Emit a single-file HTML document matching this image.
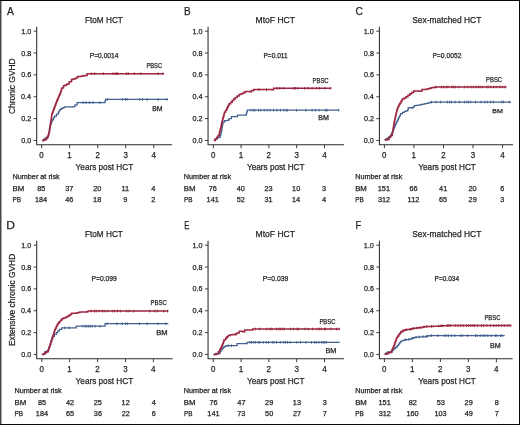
<!DOCTYPE html>
<html><head><meta charset="utf-8"><style>
html,body{margin:0;padding:0;background:#fff;}
body{width:520px;height:425px;overflow:hidden;position:relative;}
svg{position:absolute;left:0;top:0;will-change:transform;}
text{font-family:"Liberation Sans", sans-serif;stroke:#231f20;stroke-width:0.25px;}
</style></head><body>
<svg width="520" height="425" viewBox="0 0 520 425">
<rect x="0" y="0" width="520" height="425" fill="#fff"/>
<g transform="translate(0,0)">
<path d="M36.7,26.7 V144.8 H172.10" fill="none" stroke="#2b2a29" stroke-width="1.05"/>
<path d="M33.6,140.47H36.7M33.6,118.61H36.7M33.6,96.75H36.7M33.6,74.89H36.7M33.6,53.03H36.7M33.6,31.17H36.7M41.65,144.8V148.2M69.68,144.8V148.2M97.71,144.8V148.2M125.74,144.8V148.2M153.77,144.8V148.2" stroke="#2b2a29" stroke-width="0.9"/>
<text x="84.92" y="23.07" font-size="9.70" textLength="37.96" lengthAdjust="spacingAndGlyphs" fill="#231f20">FtoM HCT</text>
<text x="89.70" y="58.00" font-size="7.16" textLength="28.85" lengthAdjust="spacingAndGlyphs" fill="#231f20">P=0.0014</text>
<text x="21.15" y="143.02" font-size="7.59" textLength="10.03" lengthAdjust="spacingAndGlyphs" fill="#231f20">0.0</text>
<text x="21.23" y="121.16" font-size="7.59" textLength="10.03" lengthAdjust="spacingAndGlyphs" fill="#231f20">0.2</text>
<text x="21.08" y="99.30" font-size="7.59" textLength="10.03" lengthAdjust="spacingAndGlyphs" fill="#231f20">0.4</text>
<text x="21.19" y="77.44" font-size="7.59" textLength="10.03" lengthAdjust="spacingAndGlyphs" fill="#231f20">0.6</text>
<text x="21.18" y="55.58" font-size="7.59" textLength="10.03" lengthAdjust="spacingAndGlyphs" fill="#231f20">0.8</text>
<text x="21.15" y="33.72" font-size="7.59" textLength="10.03" lengthAdjust="spacingAndGlyphs" fill="#231f20">1.0</text>
<text x="39.35" y="158.00" font-size="8.17" textLength="4.41" lengthAdjust="spacingAndGlyphs" fill="#231f20">0</text>
<text x="67.24" y="158.00" font-size="8.28" textLength="4.47" lengthAdjust="spacingAndGlyphs" fill="#231f20">1</text>
<text x="95.41" y="158.00" font-size="8.17" textLength="4.41" lengthAdjust="spacingAndGlyphs" fill="#231f20">2</text>
<text x="123.46" y="158.00" font-size="8.17" textLength="4.41" lengthAdjust="spacingAndGlyphs" fill="#231f20">3</text>
<text x="151.46" y="158.00" font-size="8.28" textLength="4.47" lengthAdjust="spacingAndGlyphs" fill="#231f20">4</text>
<text x="75.62" y="170.30" font-size="9.60" textLength="57.56" lengthAdjust="spacingAndGlyphs" fill="#231f20">Years post HCT</text>
<text x="12.50" y="178.90" font-size="7.03" textLength="47.18" lengthAdjust="spacingAndGlyphs" fill="#231f20">Number at risk</text>
<text x="12.46" y="190.80" font-size="7.41" textLength="11.68" lengthAdjust="spacingAndGlyphs" fill="#231f20">BM</text>
<text x="12.57" y="202.20" font-size="7.41" textLength="8.57" lengthAdjust="spacingAndGlyphs" fill="#231f20">PB</text>
<text x="37.18" y="190.80" font-size="7.31" textLength="8.13" lengthAdjust="spacingAndGlyphs" fill="#231f20">85</text>
<text x="34.98" y="202.20" font-size="7.31" textLength="12.19" lengthAdjust="spacingAndGlyphs" fill="#231f20">184</text>
<text x="65.26" y="190.80" font-size="7.31" textLength="8.13" lengthAdjust="spacingAndGlyphs" fill="#231f20">37</text>
<text x="65.29" y="202.20" font-size="7.31" textLength="8.13" lengthAdjust="spacingAndGlyphs" fill="#231f20">46</text>
<text x="93.21" y="190.80" font-size="7.31" textLength="8.13" lengthAdjust="spacingAndGlyphs" fill="#231f20">20</text>
<text x="93.13" y="202.20" font-size="7.31" textLength="8.13" lengthAdjust="spacingAndGlyphs" fill="#231f20">18</text>
<text x="121.39" y="190.80" font-size="7.41" textLength="7.70" lengthAdjust="spacingAndGlyphs" fill="#231f20">11</text>
<text x="123.31" y="202.20" font-size="7.31" textLength="4.06" lengthAdjust="spacingAndGlyphs" fill="#231f20">9</text>
<text x="151.33" y="190.80" font-size="7.41" textLength="4.12" lengthAdjust="spacingAndGlyphs" fill="#231f20">4</text>
<text x="151.34" y="202.20" font-size="7.31" textLength="4.06" lengthAdjust="spacingAndGlyphs" fill="#231f20">2</text>
</g>
<text x="7.04" y="14.80" font-size="10.90" textLength="6.88" lengthAdjust="spacingAndGlyphs" fill="#231f20">A</text>
<text x="146.43" y="67.50" font-size="7.02" textLength="15.69" lengthAdjust="spacingAndGlyphs" fill="#231f20">PBSC</text>
<text x="152.24" y="110.75" font-size="6.76" textLength="10.33" lengthAdjust="spacingAndGlyphs" fill="#231f20">BM</text>
<path d="M41.90,140.50 L43.65,140.50 L43.65,139.15 L45.40,139.15 L45.40,137.80 L46.90,137.80 L46.90,136.80 L48.40,136.80 L48.40,135.80 L48.65,135.80 L48.65,134.15 L48.90,134.15 L48.90,132.50 L49.15,132.50 L49.15,130.85 L49.40,130.85 L49.40,129.20 L49.65,129.20 L49.65,127.55 L49.90,127.55 L49.90,125.90 L50.48,125.90 L50.48,124.38 L51.05,124.38 L51.05,122.85 L51.62,122.85 L51.62,121.33 L52.20,121.33 L52.20,119.80 L53.35,119.80 L53.35,117.90 L54.50,117.90 L54.50,116.00 L56.40,116.00 L56.40,114.05 L58.30,114.05 L58.30,112.10 L59.15,112.10 L59.15,110.75 L60.00,110.75 L60.00,109.40 L61.40,109.40 L61.40,108.30 L63.00,108.30 L63.00,107.55 L64.60,107.55 L64.60,106.80 L72.70,106.80 L72.70,106.50 L75.00,106.50 L75.00,104.80 L77.10,104.80 L77.10,102.50 L104.40,102.50 L104.40,102.50 L105.00,102.50 L105.00,100.95 L105.60,100.95 L105.60,99.40 L168.00,99.40 L168.00,99.40" fill="none" stroke="#41608e" stroke-width="1.25" stroke-linejoin="miter"/>
<path d="M83.10,101.20V103.80M86.00,101.20V103.80M89.40,101.20V103.80M92.90,101.20V103.80M99.80,101.20V103.80M107.30,98.10V100.70M122.40,98.10V100.70M125.30,98.10V100.70M127.00,98.10V100.70M139.70,98.10V100.70M142.60,98.10V100.70M147.20,98.10V100.70M158.20,98.10V100.70M166.80,98.10V100.70" stroke="#41608e" stroke-width="1.0"/>
<path d="M41.90,140.50 L43.65,140.50 L43.65,140.05 L45.40,140.05 L45.40,139.60 L46.50,139.60 L46.50,138.10 L47.60,138.10 L47.60,136.60 L48.13,136.60 L48.13,135.07 L48.67,135.07 L48.67,133.53 L49.20,133.53 L49.20,132.00 L49.44,132.00 L49.44,130.46 L49.68,130.46 L49.68,128.92 L49.92,128.92 L49.92,127.38 L50.16,127.38 L50.16,125.84 L50.40,125.84 L50.40,124.30 L50.61,124.30 L50.61,122.77 L50.83,122.77 L50.83,121.24 L51.04,121.24 L51.04,119.71 L51.26,119.71 L51.26,118.19 L51.47,118.19 L51.47,116.66 L51.69,116.66 L51.69,115.13 L51.90,115.13 L51.90,113.60 L52.55,113.60 L52.55,111.90 L53.20,111.90 L53.20,110.20 L53.85,110.20 L53.85,108.50 L54.50,108.50 L54.50,106.80 L55.08,106.80 L55.08,105.25 L55.65,105.25 L55.65,103.70 L56.22,103.70 L56.22,102.15 L56.80,102.15 L56.80,100.60 L57.57,100.60 L57.57,98.83 L58.33,98.83 L58.33,97.07 L59.10,97.07 L59.10,95.30 L59.80,95.30 L59.80,93.65 L60.50,93.65 L60.50,92.00 L61.10,92.00 L61.10,90.05 L61.70,90.05 L61.70,88.10 L63.50,88.10 L63.50,85.80 L65.20,85.80 L65.20,84.90 L66.90,84.90 L66.90,84.00 L69.20,84.00 L69.20,81.70 L71.50,81.70 L71.50,79.40 L73.25,79.40 L73.25,79.00 L75.00,79.00 L75.00,78.60 L76.45,78.60 L76.45,77.55 L77.90,77.55 L77.90,76.50 L80.80,76.50 L80.80,76.20 L82.80,76.20 L82.80,75.80 L84.80,75.80 L84.80,75.40 L87.10,75.40 L87.10,73.70 L163.90,73.70 L163.90,73.70" fill="none" stroke="#9c2541" stroke-width="1.5" stroke-linejoin="miter"/>
<path d="M91.20,72.40V75.00M94.60,72.40V75.00M103.30,72.40V75.00M113.00,72.40V75.00M114.90,72.40V75.00M116.50,72.40V75.00M117.80,72.40V75.00M126.40,72.40V75.00M128.20,72.40V75.00M134.50,72.40V75.00M140.80,72.40V75.00M158.20,72.40V75.00M162.80,72.40V75.00" stroke="#9c2541" stroke-width="1.0"/>
<g transform="translate(171.35,0)">
<path d="M36.7,26.7 V144.8 H172.55" fill="none" stroke="#2b2a29" stroke-width="1.05"/>
<path d="M33.6,140.47H36.7M33.6,118.61H36.7M33.6,96.75H36.7M33.6,74.89H36.7M33.6,53.03H36.7M33.6,31.17H36.7M41.95,144.8V148.2M69.75,144.8V148.2M97.55,144.8V148.2M125.35,144.8V148.2M153.15,144.8V148.2" stroke="#2b2a29" stroke-width="0.9"/>
<text x="84.20" y="23.07" font-size="9.70" textLength="39.40" lengthAdjust="spacingAndGlyphs" fill="#231f20">MtoF HCT</text>
<text x="92.06" y="58.00" font-size="7.16" textLength="24.27" lengthAdjust="spacingAndGlyphs" fill="#231f20">P=0.011</text>
<text x="21.15" y="143.02" font-size="7.59" textLength="10.03" lengthAdjust="spacingAndGlyphs" fill="#231f20">0.0</text>
<text x="21.23" y="121.16" font-size="7.59" textLength="10.03" lengthAdjust="spacingAndGlyphs" fill="#231f20">0.2</text>
<text x="21.08" y="99.30" font-size="7.59" textLength="10.03" lengthAdjust="spacingAndGlyphs" fill="#231f20">0.4</text>
<text x="21.19" y="77.44" font-size="7.59" textLength="10.03" lengthAdjust="spacingAndGlyphs" fill="#231f20">0.6</text>
<text x="21.18" y="55.58" font-size="7.59" textLength="10.03" lengthAdjust="spacingAndGlyphs" fill="#231f20">0.8</text>
<text x="21.15" y="33.72" font-size="7.59" textLength="10.03" lengthAdjust="spacingAndGlyphs" fill="#231f20">1.0</text>
<text x="39.65" y="158.00" font-size="8.17" textLength="4.41" lengthAdjust="spacingAndGlyphs" fill="#231f20">0</text>
<text x="67.31" y="158.00" font-size="8.28" textLength="4.47" lengthAdjust="spacingAndGlyphs" fill="#231f20">1</text>
<text x="95.25" y="158.00" font-size="8.17" textLength="4.41" lengthAdjust="spacingAndGlyphs" fill="#231f20">2</text>
<text x="123.07" y="158.00" font-size="8.17" textLength="4.41" lengthAdjust="spacingAndGlyphs" fill="#231f20">3</text>
<text x="150.84" y="158.00" font-size="8.28" textLength="4.47" lengthAdjust="spacingAndGlyphs" fill="#231f20">4</text>
<text x="75.62" y="170.30" font-size="9.60" textLength="57.56" lengthAdjust="spacingAndGlyphs" fill="#231f20">Years post HCT</text>
<text x="12.50" y="178.90" font-size="7.03" textLength="47.18" lengthAdjust="spacingAndGlyphs" fill="#231f20">Number at risk</text>
<text x="12.46" y="190.80" font-size="7.41" textLength="11.68" lengthAdjust="spacingAndGlyphs" fill="#231f20">BM</text>
<text x="12.57" y="202.20" font-size="7.41" textLength="8.57" lengthAdjust="spacingAndGlyphs" fill="#231f20">PB</text>
<text x="37.46" y="190.80" font-size="7.31" textLength="8.13" lengthAdjust="spacingAndGlyphs" fill="#231f20">76</text>
<text x="35.27" y="202.20" font-size="7.41" textLength="12.37" lengthAdjust="spacingAndGlyphs" fill="#231f20">141</text>
<text x="65.35" y="190.80" font-size="7.31" textLength="8.13" lengthAdjust="spacingAndGlyphs" fill="#231f20">40</text>
<text x="65.32" y="202.20" font-size="7.31" textLength="8.13" lengthAdjust="spacingAndGlyphs" fill="#231f20">52</text>
<text x="93.07" y="190.80" font-size="7.31" textLength="8.13" lengthAdjust="spacingAndGlyphs" fill="#231f20">23</text>
<text x="93.13" y="202.20" font-size="7.31" textLength="8.13" lengthAdjust="spacingAndGlyphs" fill="#231f20">31</text>
<text x="120.75" y="190.80" font-size="7.31" textLength="8.13" lengthAdjust="spacingAndGlyphs" fill="#231f20">10</text>
<text x="120.65" y="202.20" font-size="7.41" textLength="8.25" lengthAdjust="spacingAndGlyphs" fill="#231f20">14</text>
<text x="150.74" y="190.80" font-size="7.31" textLength="4.06" lengthAdjust="spacingAndGlyphs" fill="#231f20">3</text>
<text x="150.71" y="202.20" font-size="7.41" textLength="4.12" lengthAdjust="spacingAndGlyphs" fill="#231f20">4</text>
</g>
<text x="184.08" y="14.70" font-size="10.90" textLength="6.64" lengthAdjust="spacingAndGlyphs" fill="#231f20">B</text>
<text x="312.47" y="83.25" font-size="7.44" textLength="16.15" lengthAdjust="spacingAndGlyphs" fill="#231f20">PBSC</text>
<text x="318.26" y="119.90" font-size="6.76" textLength="10.72" lengthAdjust="spacingAndGlyphs" fill="#231f20">BM</text>
<path d="M213.80,140.40 L215.35,140.40 L215.35,139.10 L216.90,139.10 L216.90,137.80 L218.40,137.80 L218.40,137.35 L219.90,137.35 L219.90,136.90 L220.30,136.90 L220.30,135.30 L220.70,135.30 L220.70,133.70 L221.10,133.70 L221.10,132.10 L221.50,132.10 L221.50,130.50 L221.80,130.50 L221.80,128.80 L222.10,128.80 L222.10,127.10 L222.40,127.10 L222.40,125.40 L222.70,125.40 L222.70,123.70 L223.00,123.70 L223.00,122.00 L224.50,122.00 L224.50,120.50 L227.60,120.50 L227.60,120.10 L229.10,120.10 L229.10,118.50 L231.40,118.50 L231.40,116.70 L236.00,116.70 L236.00,116.70 L237.50,116.70 L237.50,115.20 L245.80,115.20 L245.80,115.20 L246.27,115.20 L246.27,113.53 L246.73,113.53 L246.73,111.87 L247.20,111.87 L247.20,110.20 L339.20,110.20 L339.20,110.20" fill="none" stroke="#41608e" stroke-width="1.25" stroke-linejoin="miter"/>
<path d="M251.00,108.90V111.50M253.30,108.90V111.50M255.00,108.90V111.50M258.50,108.90V111.50M260.80,108.90V111.50M264.20,108.90V111.50M267.10,108.90V111.50M270.00,108.90V111.50M273.50,108.90V111.50M276.90,108.90V111.50M280.40,108.90V111.50M283.80,108.90V111.50M286.20,108.90V111.50M287.30,108.90V111.50M296.50,108.90V111.50M305.80,108.90V111.50M312.10,108.90V111.50M315.60,108.90V111.50M319.00,108.90V111.50M325.40,108.90V111.50M327.10,108.90V111.50M338.70,108.90V111.50" stroke="#41608e" stroke-width="1.0"/>
<path d="M213.80,140.40 L215.35,140.40 L215.35,138.85 L216.90,138.85 L216.90,137.30 L218.05,137.30 L218.05,135.40 L219.20,135.40 L219.20,133.50 L219.57,133.50 L219.57,131.97 L219.95,131.97 L219.95,130.45 L220.32,130.45 L220.32,128.93 L220.70,128.93 L220.70,127.40 L221.07,127.40 L221.07,125.68 L221.45,125.68 L221.45,123.95 L221.82,123.95 L221.82,122.22 L222.20,122.22 L222.20,120.50 L222.66,120.50 L222.66,118.82 L223.12,118.82 L223.12,117.14 L223.58,117.14 L223.58,115.46 L224.04,115.46 L224.04,113.78 L224.50,113.78 L224.50,112.10 L225.65,112.10 L225.65,110.20 L226.80,110.20 L226.80,108.30 L227.57,108.30 L227.57,106.77 L228.33,106.77 L228.33,105.23 L229.10,105.23 L229.10,103.70 L230.65,103.70 L230.65,102.15 L232.20,102.15 L232.20,100.60 L233.70,100.60 L233.70,99.10 L235.20,99.10 L235.20,97.60 L237.15,97.60 L237.15,96.05 L239.10,96.05 L239.10,94.50 L240.70,94.50 L240.70,93.90 L242.30,93.90 L242.30,93.30 L243.75,93.30 L243.75,92.40 L245.20,92.40 L245.20,91.50 L249.80,91.50 L249.80,91.80 L251.50,91.80 L251.50,90.60 L253.80,90.60 L253.80,89.60 L271.20,89.60 L271.20,89.80 L273.50,89.80 L273.50,88.30 L331.20,88.30 L331.20,88.30" fill="none" stroke="#9c2541" stroke-width="1.5" stroke-linejoin="miter"/>
<path d="M259.00,88.36V90.96M266.50,88.45V91.05M276.90,87.00V89.60M279.80,87.00V89.60M283.30,87.00V89.60M293.70,87.00V89.60M295.40,87.00V89.60M297.70,87.00V89.60M304.60,87.00V89.60M308.10,87.00V89.60M312.10,87.00V89.60M316.70,87.00V89.60M319.60,87.00V89.60M324.80,87.00V89.60M330.60,87.00V89.60" stroke="#9c2541" stroke-width="1.0"/>
<g transform="translate(342.7,0)">
<path d="M36.7,26.7 V144.8 H170.30" fill="none" stroke="#2b2a29" stroke-width="1.05"/>
<path d="M33.6,140.47H36.7M33.6,118.61H36.7M33.6,96.75H36.7M33.6,74.89H36.7M33.6,53.03H36.7M33.6,31.17H36.7M41.70,144.8V148.2M71.25,144.8V148.2M100.80,144.8V148.2M130.35,144.8V148.2M159.90,144.8V148.2" stroke="#2b2a29" stroke-width="0.9"/>
<text x="69.51" y="23.07" font-size="9.34" textLength="69.08" lengthAdjust="spacingAndGlyphs" fill="#231f20">Sex-matched HCT</text>
<text x="89.70" y="58.00" font-size="7.16" textLength="28.99" lengthAdjust="spacingAndGlyphs" fill="#231f20">P=0.0052</text>
<text x="21.15" y="143.02" font-size="7.59" textLength="10.03" lengthAdjust="spacingAndGlyphs" fill="#231f20">0.0</text>
<text x="21.23" y="121.16" font-size="7.59" textLength="10.03" lengthAdjust="spacingAndGlyphs" fill="#231f20">0.2</text>
<text x="21.08" y="99.30" font-size="7.59" textLength="10.03" lengthAdjust="spacingAndGlyphs" fill="#231f20">0.4</text>
<text x="21.19" y="77.44" font-size="7.59" textLength="10.03" lengthAdjust="spacingAndGlyphs" fill="#231f20">0.6</text>
<text x="21.18" y="55.58" font-size="7.59" textLength="10.03" lengthAdjust="spacingAndGlyphs" fill="#231f20">0.8</text>
<text x="21.15" y="33.72" font-size="7.59" textLength="10.03" lengthAdjust="spacingAndGlyphs" fill="#231f20">1.0</text>
<text x="39.40" y="158.00" font-size="8.17" textLength="4.41" lengthAdjust="spacingAndGlyphs" fill="#231f20">0</text>
<text x="68.81" y="158.00" font-size="8.28" textLength="4.47" lengthAdjust="spacingAndGlyphs" fill="#231f20">1</text>
<text x="98.50" y="158.00" font-size="8.17" textLength="4.41" lengthAdjust="spacingAndGlyphs" fill="#231f20">2</text>
<text x="128.07" y="158.00" font-size="8.17" textLength="4.41" lengthAdjust="spacingAndGlyphs" fill="#231f20">3</text>
<text x="157.59" y="158.00" font-size="8.28" textLength="4.47" lengthAdjust="spacingAndGlyphs" fill="#231f20">4</text>
<text x="75.62" y="170.30" font-size="9.60" textLength="57.56" lengthAdjust="spacingAndGlyphs" fill="#231f20">Years post HCT</text>
<text x="12.50" y="178.90" font-size="7.03" textLength="47.18" lengthAdjust="spacingAndGlyphs" fill="#231f20">Number at risk</text>
<text x="12.46" y="190.80" font-size="7.41" textLength="11.68" lengthAdjust="spacingAndGlyphs" fill="#231f20">BM</text>
<text x="12.57" y="202.20" font-size="7.41" textLength="8.57" lengthAdjust="spacingAndGlyphs" fill="#231f20">PB</text>
<text x="35.02" y="190.80" font-size="7.41" textLength="12.37" lengthAdjust="spacingAndGlyphs" fill="#231f20">151</text>
<text x="35.25" y="202.20" font-size="7.31" textLength="12.19" lengthAdjust="spacingAndGlyphs" fill="#231f20">312</text>
<text x="66.76" y="190.80" font-size="7.31" textLength="8.13" lengthAdjust="spacingAndGlyphs" fill="#231f20">66</text>
<text x="64.93" y="202.20" font-size="7.31" textLength="11.65" lengthAdjust="spacingAndGlyphs" fill="#231f20">112</text>
<text x="96.37" y="190.80" font-size="7.41" textLength="8.25" lengthAdjust="spacingAndGlyphs" fill="#231f20">41</text>
<text x="96.30" y="202.20" font-size="7.31" textLength="8.13" lengthAdjust="spacingAndGlyphs" fill="#231f20">65</text>
<text x="125.85" y="190.80" font-size="7.31" textLength="8.13" lengthAdjust="spacingAndGlyphs" fill="#231f20">20</text>
<text x="125.88" y="202.20" font-size="7.31" textLength="8.13" lengthAdjust="spacingAndGlyphs" fill="#231f20">29</text>
<text x="157.44" y="190.80" font-size="7.31" textLength="4.06" lengthAdjust="spacingAndGlyphs" fill="#231f20">6</text>
<text x="157.49" y="202.20" font-size="7.31" textLength="4.06" lengthAdjust="spacingAndGlyphs" fill="#231f20">3</text>
</g>
<text x="355.38" y="15.00" font-size="11.03" textLength="7.42" lengthAdjust="spacingAndGlyphs" fill="#231f20">C</text>
<text x="486.12" y="81.80" font-size="7.02" textLength="16.01" lengthAdjust="spacingAndGlyphs" fill="#231f20">PBSC</text>
<text x="492.22" y="112.60" font-size="6.25" textLength="10.55" lengthAdjust="spacingAndGlyphs" fill="#231f20">BM</text>
<path d="M384.60,139.60 L386.10,139.60 L386.10,138.70 L387.60,138.70 L387.60,137.80 L389.15,137.80 L389.15,136.40 L390.70,136.40 L390.70,135.00 L391.47,135.00 L391.47,133.50 L392.23,133.50 L392.23,132.00 L393.00,132.00 L393.00,130.50 L393.57,130.50 L393.57,128.95 L394.15,128.95 L394.15,127.40 L394.73,127.40 L394.73,125.85 L395.30,125.85 L395.30,124.30 L396.07,124.30 L396.07,122.80 L396.83,122.80 L396.83,121.30 L397.60,121.30 L397.60,119.80 L398.35,119.80 L398.35,118.25 L399.10,118.25 L399.10,116.70 L399.85,116.70 L399.85,115.15 L400.60,115.15 L400.60,113.60 L402.55,113.60 L402.55,112.45 L404.50,112.45 L404.50,111.30 L406.00,111.30 L406.00,110.95 L407.50,110.95 L407.50,110.60 L407.90,110.60 L407.90,109.15 L408.30,109.15 L408.30,107.70 L411.30,107.70 L411.30,108.00 L412.85,108.00 L412.85,106.85 L414.40,106.85 L414.40,105.70 L416.20,105.70 L416.20,105.40 L418.00,105.40 L418.00,105.10 L419.80,105.10 L419.80,104.80 L421.48,104.80 L421.48,104.42 L423.15,104.42 L423.15,104.05 L424.82,104.05 L424.82,103.67 L426.50,103.67 L426.50,103.30 L428.23,103.30 L428.23,102.87 L429.97,102.87 L429.97,102.43 L431.70,102.43 L431.70,102.00 L511.00,102.00 L511.00,102.00" fill="none" stroke="#41608e" stroke-width="1.25" stroke-linejoin="miter"/>
<path d="M431.40,100.78V103.38M436.00,100.70V103.30M440.70,100.70V103.30M447.50,100.70V103.30M449.60,100.70V103.30M451.30,100.70V103.30M455.10,100.70V103.30M459.30,100.70V103.30M464.40,100.70V103.30M466.90,100.70V103.30M468.60,100.70V103.30M470.70,100.70V103.30M475.50,100.70V103.30M481.00,100.70V103.30M484.80,100.70V103.30M487.30,100.70V103.30M490.30,100.70V103.30M493.30,100.70V103.30M501.70,100.70V103.30M503.40,100.70V103.30M509.30,100.70V103.30" stroke="#41608e" stroke-width="1.0"/>
<path d="M384.60,140.10 L386.90,140.10 L386.90,139.60 L389.20,139.60 L389.20,137.30 L390.70,137.30 L390.70,135.40 L392.20,135.40 L392.20,133.50 L392.47,133.50 L392.47,131.97 L392.74,131.97 L392.74,130.44 L393.01,130.44 L393.01,128.91 L393.29,128.91 L393.29,127.39 L393.56,127.39 L393.56,125.86 L393.83,125.86 L393.83,124.33 L394.10,124.33 L394.10,122.80 L394.43,122.80 L394.43,121.15 L394.77,121.15 L394.77,119.50 L395.10,119.50 L395.10,117.85 L395.43,117.85 L395.43,116.20 L395.77,116.20 L395.77,114.55 L396.10,114.55 L396.10,112.90 L396.60,112.90 L396.60,111.10 L397.10,111.10 L397.10,109.30 L397.60,109.30 L397.60,107.50 L398.37,107.50 L398.37,105.97 L399.13,105.97 L399.13,104.43 L399.90,104.43 L399.90,102.90 L401.05,102.90 L401.05,101.00 L402.20,101.00 L402.20,99.10 L404.10,99.10 L404.10,97.95 L406.00,97.95 L406.00,96.80 L407.90,96.80 L407.90,95.30 L409.80,95.30 L409.80,93.80 L411.70,93.80 L411.70,92.40 L413.60,92.40 L413.60,91.00 L419.60,91.00 L419.60,91.20 L421.90,91.20 L421.90,89.40 L426.50,89.40 L426.50,89.10 L428.07,89.10 L428.07,88.63 L429.63,88.63 L429.63,88.17 L431.20,88.17 L431.20,87.70 L432.73,87.70 L432.73,87.50 L434.27,87.50 L434.27,87.30 L435.80,87.30 L435.80,87.10 L445.00,87.10 L445.00,87.10 L447.30,87.10 L447.30,87.00 L506.50,87.00 L506.50,87.00" fill="none" stroke="#9c2541" stroke-width="1.5" stroke-linejoin="miter"/>
<path d="M435.60,85.83V88.43M441.50,85.80V88.40M443.70,85.80V88.40M446.20,85.75V88.35M447.90,85.70V88.30M451.70,85.70V88.30M453.40,85.70V88.30M455.10,85.70V88.30M458.90,85.70V88.30M464.40,85.70V88.30M467.80,85.70V88.30M471.10,85.70V88.30M473.40,85.70V88.30M476.30,85.70V88.30M478.50,85.70V88.30M480.20,85.70V88.30M482.70,85.70V88.30M486.90,85.70V88.30M488.20,85.70V88.30M490.70,85.70V88.30M493.70,85.70V88.30M496.20,85.70V88.30M499.60,85.70V88.30M502.10,85.70V88.30M505.10,85.70V88.30" stroke="#9c2541" stroke-width="1.0"/>
<g transform="translate(0,214)">
<path d="M36.7,26.7 V144.8 H172.60" fill="none" stroke="#2b2a29" stroke-width="1.05"/>
<path d="M33.6,140.47H36.7M33.6,118.61H36.7M33.6,96.75H36.7M33.6,74.89H36.7M33.6,53.03H36.7M33.6,31.17H36.7M41.80,144.8V148.2M69.70,144.8V148.2M97.60,144.8V148.2M125.50,144.8V148.2M153.40,144.8V148.2" stroke="#2b2a29" stroke-width="0.9"/>
<text x="84.92" y="23.07" font-size="9.70" textLength="37.96" lengthAdjust="spacingAndGlyphs" fill="#231f20">FtoM HCT</text>
<text x="91.55" y="66.60" font-size="6.73" textLength="25.27" lengthAdjust="spacingAndGlyphs" fill="#231f20">P=0.099</text>
<text x="21.15" y="143.02" font-size="7.59" textLength="10.03" lengthAdjust="spacingAndGlyphs" fill="#231f20">0.0</text>
<text x="21.23" y="121.16" font-size="7.59" textLength="10.03" lengthAdjust="spacingAndGlyphs" fill="#231f20">0.2</text>
<text x="21.08" y="99.30" font-size="7.59" textLength="10.03" lengthAdjust="spacingAndGlyphs" fill="#231f20">0.4</text>
<text x="21.19" y="77.44" font-size="7.59" textLength="10.03" lengthAdjust="spacingAndGlyphs" fill="#231f20">0.6</text>
<text x="21.18" y="55.58" font-size="7.59" textLength="10.03" lengthAdjust="spacingAndGlyphs" fill="#231f20">0.8</text>
<text x="21.15" y="33.72" font-size="7.59" textLength="10.03" lengthAdjust="spacingAndGlyphs" fill="#231f20">1.0</text>
<text x="39.50" y="158.00" font-size="8.17" textLength="4.41" lengthAdjust="spacingAndGlyphs" fill="#231f20">0</text>
<text x="67.26" y="158.00" font-size="8.28" textLength="4.47" lengthAdjust="spacingAndGlyphs" fill="#231f20">1</text>
<text x="95.30" y="158.00" font-size="8.17" textLength="4.41" lengthAdjust="spacingAndGlyphs" fill="#231f20">2</text>
<text x="123.22" y="158.00" font-size="8.17" textLength="4.41" lengthAdjust="spacingAndGlyphs" fill="#231f20">3</text>
<text x="151.09" y="158.00" font-size="8.28" textLength="4.47" lengthAdjust="spacingAndGlyphs" fill="#231f20">4</text>
<text x="75.62" y="170.30" font-size="9.60" textLength="57.56" lengthAdjust="spacingAndGlyphs" fill="#231f20">Years post HCT</text>
<text x="14.50" y="178.90" font-size="7.03" textLength="47.18" lengthAdjust="spacingAndGlyphs" fill="#231f20">Number at risk</text>
<text x="14.46" y="190.80" font-size="7.41" textLength="11.68" lengthAdjust="spacingAndGlyphs" fill="#231f20">BM</text>
<text x="14.57" y="202.20" font-size="7.41" textLength="8.57" lengthAdjust="spacingAndGlyphs" fill="#231f20">PB</text>
<text x="38.03" y="190.80" font-size="7.31" textLength="8.13" lengthAdjust="spacingAndGlyphs" fill="#231f20">85</text>
<text x="35.83" y="202.20" font-size="7.31" textLength="12.19" lengthAdjust="spacingAndGlyphs" fill="#231f20">184</text>
<text x="66.04" y="190.80" font-size="7.31" textLength="8.13" lengthAdjust="spacingAndGlyphs" fill="#231f20">42</text>
<text x="65.90" y="202.20" font-size="7.31" textLength="8.13" lengthAdjust="spacingAndGlyphs" fill="#231f20">65</text>
<text x="93.81" y="190.80" font-size="7.31" textLength="8.13" lengthAdjust="spacingAndGlyphs" fill="#231f20">25</text>
<text x="93.86" y="202.20" font-size="7.31" textLength="8.13" lengthAdjust="spacingAndGlyphs" fill="#231f20">36</text>
<text x="121.64" y="190.80" font-size="7.31" textLength="8.13" lengthAdjust="spacingAndGlyphs" fill="#231f20">12</text>
<text x="121.74" y="202.20" font-size="7.31" textLength="8.13" lengthAdjust="spacingAndGlyphs" fill="#231f20">22</text>
<text x="151.66" y="190.80" font-size="7.41" textLength="4.12" lengthAdjust="spacingAndGlyphs" fill="#231f20">4</text>
<text x="151.64" y="202.20" font-size="7.31" textLength="4.06" lengthAdjust="spacingAndGlyphs" fill="#231f20">6</text>
</g>
<text x="6.32" y="228.80" font-size="10.90" textLength="8.66" lengthAdjust="spacingAndGlyphs" fill="#231f20">D</text>
<text x="150.57" y="305.10" font-size="7.16" textLength="16.15" lengthAdjust="spacingAndGlyphs" fill="#231f20">PBSC</text>
<text x="156.18" y="335.00" font-size="6.69" textLength="11.34" lengthAdjust="spacingAndGlyphs" fill="#231f20">BM</text>
<path d="M43.40,353.90 L44.90,353.90 L44.90,351.60 L46.40,351.60 L46.40,351.00 L47.90,351.00 L47.90,350.40 L48.48,350.40 L48.48,348.77 L49.05,348.77 L49.05,347.15 L49.62,347.15 L49.62,345.52 L50.20,345.52 L50.20,343.90 L50.66,343.90 L50.66,342.38 L51.12,342.38 L51.12,340.86 L51.58,340.86 L51.58,339.34 L52.04,339.34 L52.04,337.82 L52.50,337.82 L52.50,336.30 L54.40,336.30 L54.40,334.40 L56.30,334.40 L56.30,332.50 L57.85,332.50 L57.85,330.95 L59.40,330.95 L59.40,329.40 L61.70,329.40 L61.70,327.90 L75.50,327.90 L75.50,327.90 L76.20,327.90 L76.20,326.20 L104.90,326.20 L104.90,326.20 L105.10,326.20 L105.10,323.70 L168.30,323.70 L168.30,323.70" fill="none" stroke="#41608e" stroke-width="1.25" stroke-linejoin="miter"/>
<path d="M64.80,326.60V329.20M69.30,326.60V329.20M82.90,324.90V327.50M85.20,324.90V327.50M86.90,324.90V327.50M88.70,324.90V327.50M90.40,324.90V327.50M92.10,324.90V327.50M95.00,324.90V327.50M100.20,324.90V327.50M107.10,322.40V325.00M116.90,322.40V325.00M122.10,322.40V325.00M125.60,322.40V325.00M127.30,322.40V325.00M139.40,322.40V325.00M147.10,322.40V325.00M158.00,322.40V325.00M165.80,322.40V325.00" stroke="#41608e" stroke-width="1.0"/>
<path d="M41.80,354.60 L43.35,354.60 L43.35,353.70 L44.90,353.70 L44.90,352.80 L46.40,352.80 L46.40,352.05 L47.90,352.05 L47.90,351.30 L48.36,351.30 L48.36,349.82 L48.82,349.82 L48.82,348.34 L49.28,348.34 L49.28,346.86 L49.74,346.86 L49.74,345.38 L50.20,345.38 L50.20,343.90 L50.78,343.90 L50.78,342.17 L51.35,342.17 L51.35,340.45 L51.92,340.45 L51.92,338.73 L52.50,338.73 L52.50,337.00 L52.96,337.00 L52.96,335.48 L53.42,335.48 L53.42,333.96 L53.88,333.96 L53.88,332.44 L54.34,332.44 L54.34,330.92 L54.80,330.92 L54.80,329.40 L55.57,329.40 L55.57,327.88 L56.35,327.88 L56.35,326.35 L57.12,326.35 L57.12,324.82 L57.90,324.82 L57.90,323.30 L59.17,323.30 L59.17,321.77 L60.43,321.77 L60.43,320.23 L61.70,320.23 L61.70,318.70 L63.60,318.70 L63.60,317.95 L65.50,317.95 L65.50,317.20 L67.05,317.20 L67.05,316.40 L68.60,316.40 L68.60,315.60 L70.10,315.60 L70.10,314.45 L71.60,314.45 L71.60,313.30 L76.20,313.30 L76.20,313.00 L78.10,313.00 L78.10,312.55 L80.00,312.55 L80.00,312.10 L86.90,312.10 L86.90,311.80 L88.10,311.80 L88.10,311.10 L168.30,311.10 L168.30,311.10" fill="none" stroke="#9c2541" stroke-width="1.5" stroke-linejoin="miter"/>
<path d="M91.00,309.80V312.40M94.40,309.80V312.40M96.20,309.80V312.40M99.00,309.80V312.40M102.50,309.80V312.40M104.20,309.80V312.40M107.10,309.80V312.40M112.30,309.80V312.40M114.60,309.80V312.40M117.50,309.80V312.40M120.40,309.80V312.40M126.70,309.80V312.40M129.00,309.80V312.40M133.70,309.80V312.40M149.60,309.80V312.40M154.90,309.80V312.40M157.30,309.80V312.40M163.70,309.80V312.40M167.60,309.80V312.40" stroke="#9c2541" stroke-width="1.0"/>
<g transform="translate(171.35,214)">
<path d="M36.7,26.7 V144.8 H172.55" fill="none" stroke="#2b2a29" stroke-width="1.05"/>
<path d="M33.6,140.47H36.7M33.6,118.61H36.7M33.6,96.75H36.7M33.6,74.89H36.7M33.6,53.03H36.7M33.6,31.17H36.7M41.95,144.8V148.2M69.75,144.8V148.2M97.55,144.8V148.2M125.35,144.8V148.2M153.15,144.8V148.2" stroke="#2b2a29" stroke-width="0.9"/>
<text x="84.20" y="23.07" font-size="9.70" textLength="39.40" lengthAdjust="spacingAndGlyphs" fill="#231f20">MtoF HCT</text>
<text x="91.34" y="66.60" font-size="6.73" textLength="25.69" lengthAdjust="spacingAndGlyphs" fill="#231f20">P=0.039</text>
<text x="21.15" y="143.02" font-size="7.59" textLength="10.03" lengthAdjust="spacingAndGlyphs" fill="#231f20">0.0</text>
<text x="21.23" y="121.16" font-size="7.59" textLength="10.03" lengthAdjust="spacingAndGlyphs" fill="#231f20">0.2</text>
<text x="21.08" y="99.30" font-size="7.59" textLength="10.03" lengthAdjust="spacingAndGlyphs" fill="#231f20">0.4</text>
<text x="21.19" y="77.44" font-size="7.59" textLength="10.03" lengthAdjust="spacingAndGlyphs" fill="#231f20">0.6</text>
<text x="21.18" y="55.58" font-size="7.59" textLength="10.03" lengthAdjust="spacingAndGlyphs" fill="#231f20">0.8</text>
<text x="21.15" y="33.72" font-size="7.59" textLength="10.03" lengthAdjust="spacingAndGlyphs" fill="#231f20">1.0</text>
<text x="39.65" y="158.00" font-size="8.17" textLength="4.41" lengthAdjust="spacingAndGlyphs" fill="#231f20">0</text>
<text x="67.31" y="158.00" font-size="8.28" textLength="4.47" lengthAdjust="spacingAndGlyphs" fill="#231f20">1</text>
<text x="95.25" y="158.00" font-size="8.17" textLength="4.41" lengthAdjust="spacingAndGlyphs" fill="#231f20">2</text>
<text x="123.07" y="158.00" font-size="8.17" textLength="4.41" lengthAdjust="spacingAndGlyphs" fill="#231f20">3</text>
<text x="150.84" y="158.00" font-size="8.28" textLength="4.47" lengthAdjust="spacingAndGlyphs" fill="#231f20">4</text>
<text x="75.62" y="170.30" font-size="9.60" textLength="57.56" lengthAdjust="spacingAndGlyphs" fill="#231f20">Years post HCT</text>
<text x="12.50" y="178.90" font-size="7.03" textLength="47.18" lengthAdjust="spacingAndGlyphs" fill="#231f20">Number at risk</text>
<text x="12.46" y="190.80" font-size="7.41" textLength="11.68" lengthAdjust="spacingAndGlyphs" fill="#231f20">BM</text>
<text x="12.57" y="202.20" font-size="7.41" textLength="8.57" lengthAdjust="spacingAndGlyphs" fill="#231f20">PB</text>
<text x="38.16" y="190.80" font-size="7.31" textLength="8.13" lengthAdjust="spacingAndGlyphs" fill="#231f20">76</text>
<text x="35.97" y="202.20" font-size="7.41" textLength="12.37" lengthAdjust="spacingAndGlyphs" fill="#231f20">141</text>
<text x="66.03" y="190.80" font-size="7.41" textLength="8.25" lengthAdjust="spacingAndGlyphs" fill="#231f20">47</text>
<text x="65.96" y="202.20" font-size="7.31" textLength="8.13" lengthAdjust="spacingAndGlyphs" fill="#231f20">73</text>
<text x="93.78" y="190.80" font-size="7.31" textLength="8.13" lengthAdjust="spacingAndGlyphs" fill="#231f20">29</text>
<text x="93.78" y="202.20" font-size="7.31" textLength="8.13" lengthAdjust="spacingAndGlyphs" fill="#231f20">50</text>
<text x="121.47" y="190.80" font-size="7.31" textLength="8.13" lengthAdjust="spacingAndGlyphs" fill="#231f20">13</text>
<text x="121.59" y="202.20" font-size="7.31" textLength="8.13" lengthAdjust="spacingAndGlyphs" fill="#231f20">27</text>
<text x="151.44" y="190.80" font-size="7.31" textLength="4.06" lengthAdjust="spacingAndGlyphs" fill="#231f20">3</text>
<text x="151.39" y="202.20" font-size="7.41" textLength="4.12" lengthAdjust="spacingAndGlyphs" fill="#231f20">7</text>
</g>
<text x="184.26" y="228.70" font-size="11.34" textLength="5.17" lengthAdjust="spacingAndGlyphs" fill="#231f20">E</text>
<text x="319.42" y="323.50" font-size="7.02" textLength="16.01" lengthAdjust="spacingAndGlyphs" fill="#231f20">PBSC</text>
<text x="325.40" y="352.70" font-size="7.12" textLength="10.89" lengthAdjust="spacingAndGlyphs" fill="#231f20">BM</text>
<path d="M213.50,354.50 L214.80,354.50 L214.80,353.90 L216.10,353.90 L216.10,353.30 L219.60,353.30 L219.60,352.90 L220.30,352.90 L220.30,351.20 L221.00,351.20 L221.00,349.50 L222.25,349.50 L222.25,348.25 L223.50,348.25 L223.50,347.00 L224.80,347.00 L224.80,346.35 L226.10,346.35 L226.10,345.70 L235.40,345.70 L235.40,345.70 L237.10,345.70 L237.10,343.60 L246.40,343.60 L246.40,343.60 L247.20,343.60 L247.20,342.30 L339.70,342.30 L339.70,342.30" fill="none" stroke="#41608e" stroke-width="1.25" stroke-linejoin="miter"/>
<path d="M228.20,344.40V347.00M231.60,344.40V347.00M249.80,341.00V343.60M251.50,341.00V343.60M253.30,341.00V343.60M255.40,341.00V343.60M258.30,341.00V343.60M260.00,341.00V343.60M263.40,341.00V343.60M266.40,341.00V343.60M268.50,341.00V343.60M272.30,341.00V343.60M274.00,341.00V343.60M276.50,341.00V343.60M280.30,341.00V343.60M283.70,341.00V343.60M285.40,341.00V343.60M287.50,341.00V343.60M290.10,341.00V343.60M296.80,341.00V343.60M300.50,341.00V343.60M306.00,341.00V343.60M311.50,341.00V343.60M314.80,341.00V343.60M316.20,341.00V343.60M318.90,341.00V343.60M321.70,341.00V343.60M323.50,341.00V343.60M324.90,341.00V343.60M326.30,341.00V343.60" stroke="#41608e" stroke-width="1.0"/>
<path d="M213.50,354.50 L216.10,354.50 L216.10,354.10 L218.40,354.10 L218.40,351.80 L219.70,351.80 L219.70,349.50 L220.57,349.50 L220.57,347.93 L221.43,347.93 L221.43,346.37 L222.30,346.37 L222.30,344.80 L222.87,344.80 L222.87,343.13 L223.43,343.13 L223.43,341.47 L224.00,341.47 L224.00,339.80 L225.70,339.80 L225.70,338.10 L226.95,338.10 L226.95,336.80 L228.20,336.80 L228.20,335.50 L230.30,335.50 L230.30,334.70 L232.40,334.70 L232.40,334.50 L234.50,334.50 L234.50,334.70 L235.80,334.70 L235.80,333.85 L237.10,333.85 L237.10,333.00 L239.20,333.00 L239.20,331.30 L242.60,331.30 L242.60,331.70 L244.70,331.70 L244.70,330.00 L251.50,330.00 L251.50,330.00 L252.70,330.00 L252.70,329.00 L339.70,329.00 L339.70,329.00" fill="none" stroke="#9c2541" stroke-width="1.5" stroke-linejoin="miter"/>
<path d="M255.40,327.70V330.30M259.60,327.70V330.30M266.80,327.70V330.30M270.20,327.70V330.30M271.90,327.70V330.30M276.50,327.70V330.30M279.10,327.70V330.30M280.30,327.70V330.30M282.50,327.70V330.30M284.10,327.70V330.30M290.50,327.70V330.30M293.50,327.70V330.30M297.20,327.70V330.30M298.20,327.70V330.30M305.10,327.70V330.30M308.30,327.70V330.30M312.50,327.70V330.30M317.10,327.70V330.30M319.40,327.70V330.30M321.20,327.70V330.30M324.50,327.70V330.30M325.40,327.70V330.30M330.90,327.70V330.30M336.50,327.70V330.30M339.20,327.70V330.30" stroke="#9c2541" stroke-width="1.0"/>
<g transform="translate(342.7,214)">
<path d="M36.7,26.7 V144.8 H169.90" fill="none" stroke="#2b2a29" stroke-width="1.05"/>
<path d="M33.6,140.47H36.7M33.6,118.61H36.7M33.6,96.75H36.7M33.6,74.89H36.7M33.6,53.03H36.7M33.6,31.17H36.7M41.70,144.8V148.2M69.70,144.8V148.2M97.70,144.8V148.2M125.70,144.8V148.2M153.70,144.8V148.2" stroke="#2b2a29" stroke-width="0.9"/>
<text x="69.51" y="23.07" font-size="9.34" textLength="69.08" lengthAdjust="spacingAndGlyphs" fill="#231f20">Sex-matched HCT</text>
<text x="91.86" y="66.60" font-size="6.73" textLength="24.53" lengthAdjust="spacingAndGlyphs" fill="#231f20">P=0.034</text>
<text x="21.15" y="143.02" font-size="7.59" textLength="10.03" lengthAdjust="spacingAndGlyphs" fill="#231f20">0.0</text>
<text x="21.23" y="121.16" font-size="7.59" textLength="10.03" lengthAdjust="spacingAndGlyphs" fill="#231f20">0.2</text>
<text x="21.08" y="99.30" font-size="7.59" textLength="10.03" lengthAdjust="spacingAndGlyphs" fill="#231f20">0.4</text>
<text x="21.19" y="77.44" font-size="7.59" textLength="10.03" lengthAdjust="spacingAndGlyphs" fill="#231f20">0.6</text>
<text x="21.18" y="55.58" font-size="7.59" textLength="10.03" lengthAdjust="spacingAndGlyphs" fill="#231f20">0.8</text>
<text x="21.15" y="33.72" font-size="7.59" textLength="10.03" lengthAdjust="spacingAndGlyphs" fill="#231f20">1.0</text>
<text x="39.40" y="158.00" font-size="8.17" textLength="4.41" lengthAdjust="spacingAndGlyphs" fill="#231f20">0</text>
<text x="67.26" y="158.00" font-size="8.28" textLength="4.47" lengthAdjust="spacingAndGlyphs" fill="#231f20">1</text>
<text x="95.40" y="158.00" font-size="8.17" textLength="4.41" lengthAdjust="spacingAndGlyphs" fill="#231f20">2</text>
<text x="123.42" y="158.00" font-size="8.17" textLength="4.41" lengthAdjust="spacingAndGlyphs" fill="#231f20">3</text>
<text x="151.39" y="158.00" font-size="8.28" textLength="4.47" lengthAdjust="spacingAndGlyphs" fill="#231f20">4</text>
<text x="75.62" y="170.30" font-size="9.60" textLength="57.56" lengthAdjust="spacingAndGlyphs" fill="#231f20">Years post HCT</text>
<text x="12.50" y="178.90" font-size="7.03" textLength="47.18" lengthAdjust="spacingAndGlyphs" fill="#231f20">Number at risk</text>
<text x="12.46" y="190.80" font-size="7.41" textLength="11.68" lengthAdjust="spacingAndGlyphs" fill="#231f20">BM</text>
<text x="12.57" y="202.20" font-size="7.41" textLength="8.57" lengthAdjust="spacingAndGlyphs" fill="#231f20">PB</text>
<text x="35.72" y="190.80" font-size="7.41" textLength="12.37" lengthAdjust="spacingAndGlyphs" fill="#231f20">151</text>
<text x="35.95" y="202.20" font-size="7.31" textLength="12.19" lengthAdjust="spacingAndGlyphs" fill="#231f20">312</text>
<text x="65.96" y="190.80" font-size="7.31" textLength="8.13" lengthAdjust="spacingAndGlyphs" fill="#231f20">82</text>
<text x="63.77" y="202.20" font-size="7.31" textLength="12.19" lengthAdjust="spacingAndGlyphs" fill="#231f20">160</text>
<text x="93.95" y="190.80" font-size="7.31" textLength="8.13" lengthAdjust="spacingAndGlyphs" fill="#231f20">53</text>
<text x="91.79" y="202.20" font-size="7.31" textLength="12.19" lengthAdjust="spacingAndGlyphs" fill="#231f20">103</text>
<text x="121.93" y="190.80" font-size="7.31" textLength="8.13" lengthAdjust="spacingAndGlyphs" fill="#231f20">29</text>
<text x="122.03" y="202.20" font-size="7.31" textLength="8.13" lengthAdjust="spacingAndGlyphs" fill="#231f20">49</text>
<text x="151.97" y="190.80" font-size="7.31" textLength="4.06" lengthAdjust="spacingAndGlyphs" fill="#231f20">8</text>
<text x="151.94" y="202.20" font-size="7.41" textLength="4.12" lengthAdjust="spacingAndGlyphs" fill="#231f20">7</text>
</g>
<text x="355.43" y="228.70" font-size="11.34" textLength="5.75" lengthAdjust="spacingAndGlyphs" fill="#231f20">F</text>
<text x="484.42" y="319.50" font-size="7.02" textLength="16.01" lengthAdjust="spacingAndGlyphs" fill="#231f20">PBSC</text>
<text x="490.12" y="347.90" font-size="6.69" textLength="10.67" lengthAdjust="spacingAndGlyphs" fill="#231f20">BM</text>
<path d="M384.60,353.70 L386.05,353.70 L386.05,352.80 L387.50,352.80 L387.50,351.90 L391.00,351.90 L391.00,351.90 L392.40,351.90 L392.40,350.20 L393.80,350.20 L393.80,348.50 L395.55,348.50 L395.55,347.05 L397.30,347.05 L397.30,345.60 L398.47,345.60 L398.47,344.07 L399.63,344.07 L399.63,342.53 L400.80,342.53 L400.80,341.00 L402.80,341.00 L402.80,340.40 L404.80,340.40 L404.80,339.80 L406.53,339.80 L406.53,339.60 L408.27,339.60 L408.27,339.40 L410.00,339.40 L410.00,339.20 L411.75,339.20 L411.75,338.35 L413.50,338.35 L413.50,337.50 L414.93,337.50 L414.93,337.35 L416.35,337.35 L416.35,337.20 L417.77,337.20 L417.77,337.05 L419.20,337.05 L419.20,336.90 L426.20,336.90 L426.20,336.30 L427.90,336.30 L427.90,335.95 L429.60,335.95 L429.60,335.60 L504.70,335.60 L504.70,335.60" fill="none" stroke="#41608e" stroke-width="1.25" stroke-linejoin="miter"/>
<path d="M405.00,338.48V341.08M409.00,338.02V340.62M412.00,336.93V339.53M416.00,335.94V338.54M419.00,335.62V338.22M423.00,335.27V337.87M426.00,335.02V337.62M427.70,334.69V337.29M431.50,334.30V336.90M437.80,334.30V336.90M444.20,334.30V336.90M446.30,334.30V336.90M448.40,334.30V336.90M451.40,334.30V336.90M454.80,334.30V336.90M460.30,334.30V336.90M462.40,334.30V336.90M467.50,334.30V336.90M475.50,334.30V336.90M477.20,334.30V336.90M480.20,334.30V336.90M482.70,334.30V336.90M484.80,334.30V336.90M487.80,334.30V336.90M491.20,334.30V336.90M495.40,334.30V336.90M497.10,334.30V336.90M500.50,334.30V336.90M502.10,334.30V336.90" stroke="#41608e" stroke-width="1.0"/>
<path d="M384.60,354.20 L386.35,354.20 L386.35,353.65 L388.10,353.65 L388.10,353.10 L389.55,353.10 L389.55,352.50 L391.00,352.50 L391.00,351.90 L391.70,351.90 L391.70,350.32 L392.40,350.32 L392.40,348.75 L393.10,348.75 L393.10,347.18 L393.80,347.18 L393.80,345.60 L394.38,345.60 L394.38,343.98 L394.96,343.98 L394.96,342.36 L395.54,342.36 L395.54,340.74 L396.12,340.74 L396.12,339.12 L396.70,339.12 L396.70,337.50 L397.73,337.50 L397.73,336.05 L398.75,336.05 L398.75,334.60 L399.77,334.60 L399.77,333.15 L400.80,333.15 L400.80,331.70 L402.50,331.70 L402.50,330.85 L404.20,330.85 L404.20,330.00 L405.73,330.00 L405.73,329.80 L407.27,329.80 L407.27,329.60 L408.80,329.60 L408.80,329.40 L410.37,329.40 L410.37,329.03 L411.93,329.03 L411.93,328.67 L413.50,328.67 L413.50,328.30 L414.93,328.30 L414.93,328.15 L416.35,328.15 L416.35,328.00 L417.77,328.00 L417.77,327.85 L419.20,327.85 L419.20,327.70 L420.95,327.70 L420.95,327.40 L422.70,327.40 L422.70,327.10 L424.45,327.10 L424.45,326.80 L426.20,326.80 L426.20,326.50 L433.10,326.50 L433.10,326.20 L441.20,326.20 L441.20,325.80 L447.20,325.80 L447.20,325.60 L511.50,325.60 L511.50,325.60" fill="none" stroke="#9c2541" stroke-width="1.5" stroke-linejoin="miter"/>
<path d="M403.00,329.30V331.90M406.00,328.47V331.07M410.00,327.82V330.42M413.00,327.12V329.72M417.00,326.63V329.23M420.00,326.26V328.86M424.00,325.58V328.18M427.00,325.17V327.77M431.50,324.97V327.57M438.70,324.62V327.22M441.20,324.50V327.10M442.90,324.44V327.04M447.60,324.30V326.90M448.80,324.30V326.90M450.50,324.30V326.90M455.20,324.30V326.90M458.10,324.30V326.90M460.70,324.30V326.90M463.20,324.30V326.90M466.60,324.30V326.90M468.70,324.30V326.90M470.80,324.30V326.90M473.00,324.30V326.90M474.70,324.30V326.90M477.60,324.30V326.90M481.40,324.30V326.90M483.50,324.30V326.90M486.90,324.30V326.90M490.30,324.30V326.90M493.70,324.30V326.90M496.20,324.30V326.90M498.80,324.30V326.90M501.70,324.30V326.90M504.30,324.30V326.90M507.20,324.30V326.90M509.80,324.30V326.90" stroke="#9c2541" stroke-width="1.0"/>
<text transform="rotate(-90)" x="-114.08" y="15.05" font-size="9.72" textLength="55.78" lengthAdjust="spacingAndGlyphs" fill="#231f20">Chronic GVHD</text>
<text transform="rotate(-90)" x="-346.09" y="15.05" font-size="9.72" textLength="92.29" lengthAdjust="spacingAndGlyphs" fill="#231f20">Extensive chronic GVHD</text>
<rect x="0" y="0" width="520" height="1" fill="#080808"/><rect x="0" y="424" width="520" height="1" fill="#0a0a0a"/><rect x="519" y="0" width="1" height="425" fill="#0a0a0a"/><rect x="0" y="1" width="1" height="423" fill="#454545"/><rect x="1" y="1" width="1" height="423" fill="#a8a8a8"/>
</svg>
</body></html>
